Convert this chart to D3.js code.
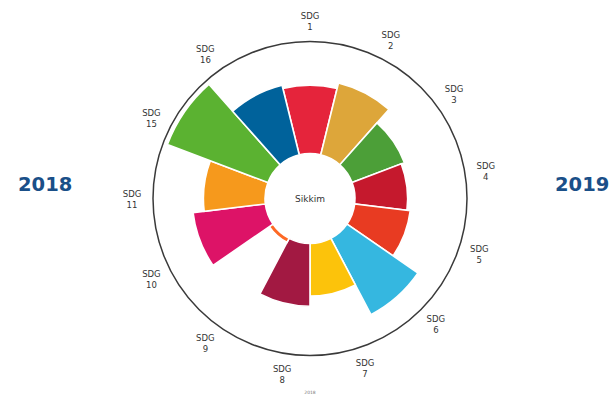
<!DOCTYPE html>
<html>
<head>
<meta charset="utf-8">
<script src="https://cdn.jsdelivr.net/npm/d3@7"></script>
<style>
  html, body { margin: 0; padding: 0; background: #fff; }
  svg { display: block; }
</style>
</head>
<body>
<svg id="chart" width="610" height="397"></svg>
<script>
const goals = ["1", "2", "3", "4", "5", "6", "7", "8", "9", "10", "11", "15", "16"];
const scores = [61, 66, 50, 47, 50, 77, 47, 56, 4, 65, 55, 96, 64];
const goalColors = ["#E5243B", "#DDA63A", "#4C9F38", "#C5192D", "#E83B22", "#35B7E0",
                    "#FCC30B", "#A21942", "#FD6925", "#DD1367", "#F6991C", "#5BB231", "#00629B"];
const stateName = "Sikkim";
const leftYear = "2018";
const rightYear = "2019";
const footYear = "2018";

const svg = d3.select("#chart");
const cx = 310, cy = 198.5;
const innerR = 45, outerR = 157;

const r = d3.scaleLinear().domain([0, 100]).range([innerR, outerR]);
const ang = d3.scaleBand().domain(goals).range([0, 2 * Math.PI]).padding(0);
const bw = ang.bandwidth();

const g = svg.append("g").attr("transform", `translate(${cx},${cy})`);

const arc = d3.arc()
  .innerRadius(innerR)
  .outerRadius(d => r(d.v))
  .startAngle(d => ang(d.k) - bw / 2)
  .endAngle(d => ang(d.k) + bw / 2);

const data = goals.map((k, i) => ({ k, v: scores[i], c: goalColors[i] }));

g.selectAll("path.bar").data(data).enter().append("path")
  .attr("class", "bar")
  .attr("d", arc)
  .attr("fill", d => d.c)
  .attr("stroke", "#fff")
  .attr("stroke-width", 1.6)
  .attr("stroke-linejoin", "miter");

// outer circle
g.append("circle").attr("r", r(100)).attr("fill", "none")
  .attr("stroke", "#3a3a3a").attr("stroke-width", 1.5);

// labels (tick positions step 27 degrees)
const labelStep = 27 * Math.PI / 180;
const labelR = 178;
const lab = g.selectAll("g.lab").data(goals).enter().append("g")
  .attr("class", "lab")
  .attr("transform", (d, i) => {
    const a = i * labelStep;
    return `translate(${labelR * Math.sin(a)},${-labelR * Math.cos(a)})`;
  });
lab.append("text").attr("y", -2).attr("text-anchor", "middle")
  .attr("font-family", "DejaVu Sans, sans-serif").attr("font-size", 8.5).attr("fill", "#333")
  .text("SDG");
lab.append("text").attr("y", 9).attr("text-anchor", "middle")
  .attr("font-family", "DejaVu Sans, sans-serif").attr("font-size", 8.5).attr("fill", "#333")
  .text(d => d);

// center label
g.append("text").attr("y", 3).attr("text-anchor", "middle")
  .attr("font-family", "DejaVu Sans, sans-serif").attr("font-size", 9).attr("fill", "#333")
  .text(stateName);

// foot year
svg.append("text").attr("x", cx).attr("y", 394).attr("text-anchor", "middle")
  .attr("font-family", "DejaVu Sans, sans-serif").attr("font-size", 4.5).attr("fill", "#777")
  .text(footYear);

// big years
svg.append("text").attr("x", 18).attr("y", 191)
  .attr("font-family", "DejaVu Sans, sans-serif").attr("font-weight", "bold")
  .attr("font-size", 19.5).attr("fill", "#1a4f88").text(leftYear);
svg.append("text").attr("x", 555).attr("y", 191)
  .attr("font-family", "DejaVu Sans, sans-serif").attr("font-weight", "bold")
  .attr("font-size", 19.5).attr("fill", "#1a4f88").text(rightYear);
</script>
</body>
</html>
